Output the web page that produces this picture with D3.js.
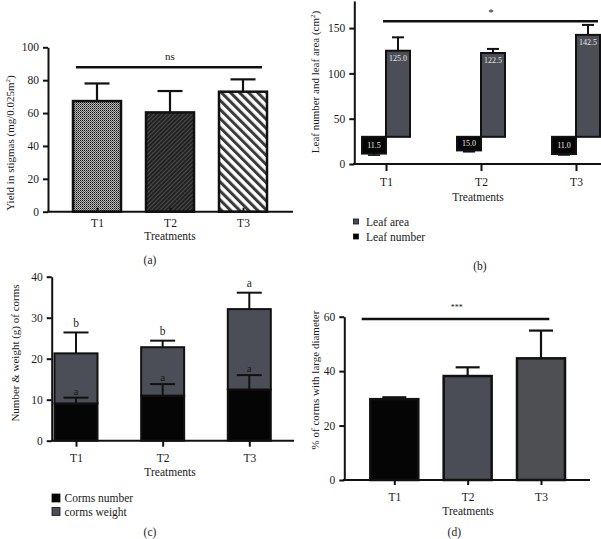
<!DOCTYPE html>
<html>
<head>
<meta charset="utf-8">
<script src="https://cdn.jsdelivr.net/npm/d3@7"></script>
<style>
  body { margin: 0; background: #fff; }
  text { font-family: "Liberation Serif", serif; fill: #1a1a1a; }
</style>
</head>
<body>
<div id="chart"></div>
<script>
var treatments = ["T1", "T2", "T3"];

// (a) yield in stigmas
var yieldMean = [67.3, 60.4, 73.0];
var yieldErr = [10.7, 13.0, 7.5];
var yieldTicks = [0, 20, 40, 60, 80, 100];

// (b) leaf number / leaf area
var leafArea = [125.0, 122.5, 142.5];
var leafAreaErr = [14.8, 4.5, 11.0];
var leafNumber = [11.5, 15.0, 11.0];
var leafNumberErr = [1.7, 1.5, 1.0];
var leafTicks = [0, 50, 100, 150];
var leafSplit = 30;

// (c) corms number & weight (stacked)
var cormsNumber = [9.1, 11.0, 12.5];
var cormsNumberErr = [1.4, 2.8, 3.5];
var cormsWeight = [12.2, 11.8, 19.6];
var cormsWeightErr = [5.1, 1.6, 4.0];
var lettersWeight = ["b", "b", "a"];
var lettersNumber = ["a", "a", "a"];
var cormsTicks = [0, 10, 20, 30, 40];

// (d) % of corms with large diameter
var largeDiam = [29.7, 38.2, 44.7];
var largeDiamErr = [0.7, 3.2, 10.2];
var largeTicks = [0, 20, 40, 60];

var grayBar = "#4b4e56";

var svg = d3.select("#chart").append("svg")
  .attr("width", 601)
  .attr("height", 539);

// patterns for panel (a)
var defs = svg.append("defs");
var p1 = defs.append("pattern").attr("id", "pat-check")
  .attr("patternUnits", "userSpaceOnUse").attr("width", 2).attr("height", 2);
p1.append("rect").attr("width", 2).attr("height", 2).attr("fill", "#bdbdbd");
p1.append("rect").attr("width", 1).attr("height", 1).attr("fill", "#111");
p1.append("rect").attr("x", 1).attr("y", 1).attr("width", 1).attr("height", 1).attr("fill", "#555");

var p2 = defs.append("pattern").attr("id", "pat-dark")
  .attr("patternUnits", "userSpaceOnUse").attr("width", 3).attr("height", 3)
  .attr("patternTransform", "rotate(45)");
p2.append("rect").attr("width", 3).attr("height", 3).attr("fill", "#222");
p2.append("rect").attr("width", 1).attr("height", 3).attr("fill", "#4c4c4c");

var p3 = defs.append("pattern").attr("id", "pat-stripe")
  .attr("patternUnits", "userSpaceOnUse").attr("width", 6.4).attr("height", 6.4)
  .attr("patternTransform", "rotate(-45)");
p3.append("rect").attr("width", 6.4).attr("height", 6.4).attr("fill", "#fff");
p3.append("rect").attr("width", 3).attr("height", 6.4).attr("fill", "#3a3a3a");

var yieldFills = ["url(#pat-check)", "url(#pat-dark)", "url(#pat-stripe)"];

function leftAxis(y, ticks, x0) {
  var g = svg.append("g")
    .attr("transform", "translate(" + x0 + ",0)")
    .call(d3.axisLeft(y).tickValues(ticks).tickSize(5).tickSizeOuter(0).tickPadding(4));
  g.selectAll("path, line").attr("stroke", "#111").attr("stroke-width", 2);
  g.selectAll("text").style("font-size", "11.5px").attr("fill", "#1a1a1a")
    .style("font-family", "Liberation Serif, serif");
}

function bottomAxis(x, y0, x0, x1, tickLen, pad) {
  svg.append("line")
    .attr("x1", x0).attr("x2", x1).attr("y1", y0).attr("y2", y0)
    .attr("stroke", "#111").attr("stroke-width", 2);
  var g = svg.append("g")
    .attr("transform", "translate(0," + y0 + ")")
    .call(d3.axisBottom(x).tickSize(tickLen).tickPadding(pad));
  g.select(".domain").remove();
  g.selectAll("line").attr("stroke", "#111").attr("stroke-width", 2);
  g.selectAll("text").style("font-size", "11.5px").attr("fill", "#1a1a1a")
    .style("font-family", "Liberation Serif, serif");
}

function label(x, y, txt, size) {
  return svg.append("text")
    .attr("x", x).attr("y", y).attr("dy", "0.35em")
    .attr("text-anchor", "middle")
    .style("font-size", (size || 11.5) + "px")
    .text(txt);
}

function yTitle(cx, cy, txt, sup, after) {
  var t = svg.append("text")
    .attr("transform", "translate(" + cx + "," + cy + ") rotate(-90)")
    .attr("text-anchor", "middle")
    .attr("dy", "0.35em")
    .style("font-size", "11px")
    .text(txt);
  if (sup) {
    t.append("tspan").attr("dy", -4).style("font-size", "7px").text(sup);
    t.append("tspan").attr("dy", 4).text(after);
  }
}

function errBar(x, yTop, yBase, cap, sw) {
  svg.append("line").attr("x1", x).attr("x2", x).attr("y1", yBase).attr("y2", yTop)
    .attr("stroke", "#111").attr("stroke-width", sw || 2);
  svg.append("line").attr("x1", x - cap / 2).attr("x2", x + cap / 2).attr("y1", yTop).attr("y2", yTop)
    .attr("stroke", "#111").attr("stroke-width", sw || 2);
}

function sigLine(x0, x1, y) {
  svg.append("line").attr("x1", x0).attr("x2", x1).attr("y1", y).attr("y2", y)
    .attr("stroke", "#111").attr("stroke-width", 2.5);
}

// ---------- (a) ----------
var xa = d3.scalePoint().domain(treatments).range([97, 243]);
var ya = d3.scaleLinear().domain([0, 100]).range([211.7, 47.3]);
var wa = 48;

treatments.forEach(function (t, i) {
  errBar(xa(t), ya(yieldMean[i] + yieldErr[i]), ya(yieldMean[i]), 25, 2.2);
  svg.append("rect")
    .attr("x", xa(t) - wa / 2).attr("y", ya(yieldMean[i]))
    .attr("width", wa).attr("height", ya(0) - ya(yieldMean[i]))
    .attr("fill", yieldFills[i]).attr("stroke", "#111").attr("stroke-width", 2.5);
});
leftAxis(ya, yieldTicks, 48);
bottomAxis(xa, ya(0), 47, 293, -4, 7);
sigLine(xa("T1") - 21, xa("T3") + 19, ya(87.8));
label(170, 56.5, "ns", 11);
label(170, 235.5, "Treatments");
yTitle(10, 143, "Yield in stigmas (mg/0.025m", "2", ")");
label(150, 260, "(a)");

// ---------- (b) ----------
var xb = d3.scalePoint().domain(treatments).range([386, 576]);
var yb = d3.scaleLinear().domain([0, 180]).range([164, 0.9]);
var wb = 24;

treatments.forEach(function (t, i) {
  var cx = xb(t);
  // leaf area (grey, right of tick)
  errBar(cx + wb / 2, yb(leafArea[i] + leafAreaErr[i]), yb(leafArea[i]), 12, 2);
  svg.append("rect")
    .attr("x", cx).attr("y", yb(leafArea[i]))
    .attr("width", wb).attr("height", yb(leafSplit) - yb(leafArea[i]))
    .attr("fill", grayBar).attr("stroke", "#111").attr("stroke-width", 2);
  svg.append("text")
    .attr("x", cx + wb / 2).attr("y", yb(leafArea[i]) + 7).attr("dy", "0.35em")
    .attr("text-anchor", "middle").style("font-size", "8px").style("fill", "#e8e8e8")
    .text(leafArea[i].toFixed(1));
  // leaf number (black, left of tick)
  errBar(cx - wb / 2, yb(leafNumber[i] - leafNumberErr[i]), yb(leafNumber[i]), 12, 1.6);
  svg.append("rect")
    .attr("x", cx - wb).attr("y", yb(leafSplit))
    .attr("width", wb).attr("height", yb(leafNumber[i]) - yb(leafSplit))
    .attr("fill", "#050505").attr("stroke", "#111").attr("stroke-width", 2);
  svg.append("text")
    .attr("x", cx - wb / 2).attr("y", (yb(leafSplit) + yb(leafNumber[i])) / 2).attr("dy", "0.35em")
    .attr("text-anchor", "middle").style("font-size", "8px").style("fill", "#e8e8e8")
    .text(leafNumber[i].toFixed(1));
});
leftAxis(yb, leafTicks, 354.3);
bottomAxis(xb, yb(0), 353, 601, 7, 7);
sigLine(383, 598, yb(157.5));
label(491, 12, "*", 11);
label(478, 197, "Treatments");
yTitle(315, 82, "Leaf number and leaf area (cm", "2", ")");

var legB = [["Leaf area", grayBar], ["Leaf number", "#050505"]];
legB.forEach(function (d, i) {
  svg.append("rect").attr("x", 353.5).attr("y", 219 + i * 15)
    .attr("width", 5).attr("height", 5).attr("fill", d[1]).attr("stroke", "#111").attr("stroke-width", 0.8);
  svg.append("text").attr("x", 366).attr("y", 221.5 + i * 15).attr("dy", "0.35em")
    .style("font-size", "11.5px").text(d[0]);
});
label(480, 266, "(b)");

// ---------- (c) ----------
var xc = d3.scalePoint().domain(treatments).range([76, 249.3]);
var yc = d3.scaleLinear().domain([0, 40]).range([440.7, 276.7]);
var wc = 43;

var stackData = treatments.map(function (t, i) {
  return { t: t, number: cormsNumber[i], weight: cormsWeight[i] };
});
var stacked = d3.stack().keys(["number", "weight"])(stackData);
var cFill = { number: "#050505", weight: grayBar };

stacked[1].forEach(function (d, i) {
  errBar(xc(d.data.t), yc(d[1] + cormsWeightErr[i]), yc(d[1]), 25, 2);
});
stacked.forEach(function (layer) {
  svg.append("g").selectAll("rect")
    .data(layer)
    .join("rect")
    .attr("x", function (d) { return xc(d.data.t) - wc / 2; })
    .attr("y", function (d) { return yc(d[1]); })
    .attr("width", wc)
    .attr("height", function (d) { return yc(d[0]) - yc(d[1]); })
    .attr("fill", cFill[layer.key])
    .attr("stroke", "#111").attr("stroke-width", 2);
});
stacked[0].forEach(function (d, i) {
  errBar(xc(d.data.t), yc(d[1] + cormsNumberErr[i]), yc(d[1]), 25, 2);
  label(xc(d.data.t), yc(d[1] + cormsNumberErr[i]) - 7, lettersNumber[i], 11);
});
stacked[1].forEach(function (d, i) {
  label(xc(d.data.t), yc(d[1] + cormsWeightErr[i]) - 9.5, lettersWeight[i], 11.5);
});
leftAxis(yc, cormsTicks, 51.7);
bottomAxis(xc, yc(0), 51, 294, 6, 7);
label(170, 471.5, "Treatments");
yTitle(15, 353, "Number & weight (g) of corms");

var legC = [["Corms number", "#050505"], ["corms weight", grayBar]];
legC.forEach(function (d, i) {
  svg.append("rect").attr("x", 52).attr("y", 494 + i * 13.5)
    .attr("width", 8).attr("height", 8).attr("fill", d[1]).attr("stroke", "#111").attr("stroke-width", 0.8);
  svg.append("text").attr("x", 64.5).attr("y", 498 + i * 13.5).attr("dy", "0.35em")
    .style("font-size", "11.5px").text(d[0]);
});
label(150, 532, "(c)");

// ---------- (d) ----------
var xd = d3.scalePoint().domain(treatments).range([394.3, 541]);
var yd = d3.scaleLinear().domain([0, 60]).range([480, 316.7]);
var wd = 48;
var dFills = ["#050505", "#4a4d55", "#4e4f52"];

treatments.forEach(function (t, i) {
  errBar(xd(t), yd(largeDiam[i] + largeDiamErr[i]), yd(largeDiam[i]), 24, 2.2);
  svg.append("rect")
    .attr("x", xd(t) - wd / 2).attr("y", yd(largeDiam[i]))
    .attr("width", wd).attr("height", yd(0) - yd(largeDiam[i]))
    .attr("fill", dFills[i]).attr("stroke", "#111").attr("stroke-width", 2.5);
});
leftAxis(yd, largeTicks, 344.3);
bottomAxis(xd, yd(0), 343, 590, 5, 8);
sigLine(361.7, 549.3, yd(59.2));
label(456.7, 307.5, "***", 8);
label(468, 510.7, "Treatments");
yTitle(315, 380, "% of corms with large diameter");
label(454.3, 532, "(d)");
</script>
</body>
</html>
